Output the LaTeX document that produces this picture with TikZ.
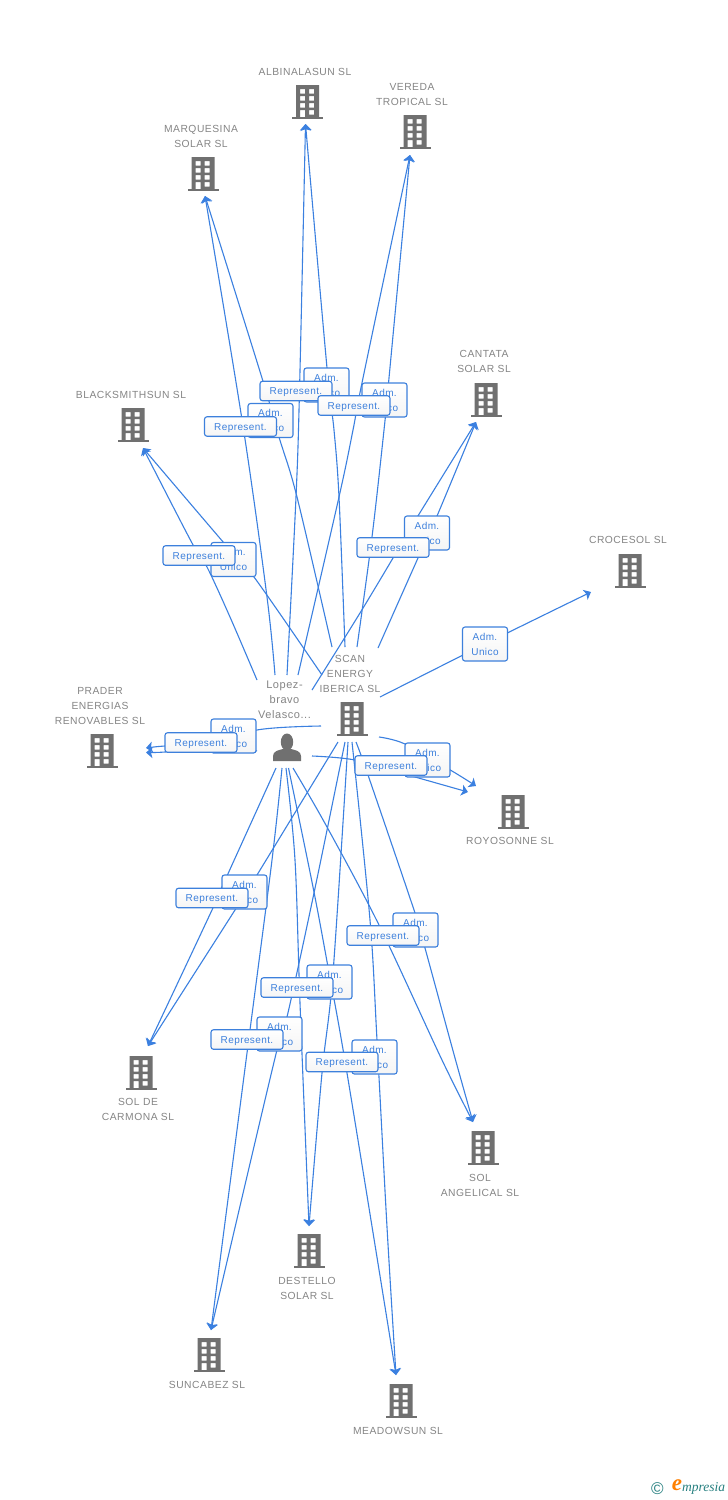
\documentclass[tikz,border=0pt]{standalone}
\usepackage{fontspec}
\usetikzlibrary{arrows.meta,positioning,calc}
\setmainfont{Liberation Sans}
\newfontfamily\labfont[LetterSpace=5]{Liberation Sans}
\newfontfamily\boxfont[LetterSpace=4]{Liberation Sans}
\newfontfamily\logofont{Liberation Serif}
\definecolor{edgeblue}{HTML}{3B80E0}
\definecolor{boxblue}{HTML}{3D80DC}
\definecolor{labgray}{HTML}{858585}
\definecolor{icongray}{HTML}{707070}
\pgfdeclarelayer{edges}
\pgfsetlayers{edges,main}
\tikzset{
  lnk/.style={draw=edgeblue,line width=1.1pt,-{Stealth[length=6.5pt,width=11pt,inset=1.5pt]}},
  lab/.style={text=labgray,align=center,inner sep=0pt,yshift=-1pt,font=\labfont\fontsize{10.3}{15}\selectfont},
  admbox/.style={draw=boxblue,line width=1.1pt,rounded corners=2.5pt,top color=white,bottom color=black!4,
    minimum width=45pt,minimum height=34pt,inner sep=0pt,align=center,text=boxblue,font=\boxfont\fontsize{10}{15}\selectfont},
  repbox/.style={draw=boxblue,line width=1.1pt,rounded corners=2.5pt,top color=white,bottom color=black!4,
    minimum width=72pt,minimum height=19.5pt,inner sep=0pt,text height=7pt,text depth=0pt,text=boxblue,font=\boxfont\fontsize{10}{15}\selectfont},
  icon/.style={inner sep=0pt,minimum width=31pt,minimum height=34pt},
}
\newcommand{\bld}[3]{%
  \node[icon] (#1) at (#2,#3) {};
  \begin{scope}[shift={(#2,#3)}]
    \fill[icongray,even odd rule]
      (-11.5,-17) rectangle (11.5,15)
      (-7.5,-13) rectangle (-2.5,-8.5) (1.5,-13) rectangle (6.5,-8.5)
      (-7.5,-6) rectangle (-2.5,-1.5) (1.5,-6) rectangle (6.5,-1.5)
      (-7.5,1) rectangle (-2.5,5.5) (1.5,1) rectangle (6.5,5.5)
      (-7.5,8) rectangle (-2.5,15) (1.5,8) rectangle (6.5,12.5);
    \fill[icongray] (-15.5,15) rectangle (15.5,17);
  \end{scope}}
\newcommand{\lk}[1]{\draw[lnk] plot[smooth,tension=.55] coordinates {#1};}
\begin{document}
\begin{tikzpicture}[x=1pt,y=-1pt]
\begin{pgfonlayer}{edges}
\path[use as bounding box,fill=white] (0,0) rectangle (728,1500);
\end{pgfonlayer}
% buildings
\bld{albina}{307.5}{102}
\bld{vereda}{415}{132}
\bld{marques}{203}{174}
\bld{black}{133}{425}
\bld{cantata}{486}{400}
\bld{croce}{630}{571}
\bld{scan}{352}{719}
\bld{prader}{102}{751}
\bld{royo}{513}{812}
\bld{carmona}{141}{1073}
\bld{angel}{483}{1148}
\bld{destello}{309}{1251}
\bld{sunca}{209}{1355}
\bld{meadow}{401}{1401}
% person
\node[icon,minimum width=28pt,minimum height=28pt] (person) at (287,747) {};
\fill[icongray] (287,742) ellipse (6.2 and 8.5);
\fill[icongray] (273,761) -- (273,756) .. controls (273,751) and (279,750) .. (283,749) -- (291,749) .. controls (295,750) and (301,751) .. (301,756) -- (301,761) -- cycle;
% labels
\node[lab] (l1) at (305,71) {ALBINALASUN SL};
\node[lab] (l2) at (412,93.5) {VEREDA\\TROPICAL SL};
\node[lab] (l3) at (201,135.5) {MARQUESINA\\SOLAR SL};
\node[lab] (l4) at (131,394) {BLACKSMITHSUN SL};
\node[lab] (l5) at (484,360.5) {CANTATA\\SOLAR SL};
\node[lab] (l6) at (628,539) {CROCESOL SL};
\node[lab] (l7) at (350,673) {SCAN\\ENERGY\\IBERICA SL};
\node[lab,font=\labfont\fontsize{11}{15}\selectfont] (l8) at (284.5,699) {Lopez-\\bravo\\Velasco...};
\node[lab] (l9) at (100,705) {PRADER\\ENERGIAS\\RENOVABLES SL};
\node[lab] (l10) at (510,840) {ROYOSONNE SL};
\node[lab] (l11) at (138,1108.5) {SOL DE\\CARMONA SL};
\node[lab] (l12) at (480,1184.5) {SOL\\ANGELICAL SL};
\node[lab] (l13) at (307,1287.5) {DESTELLO\\SOLAR SL};
\node[lab] (l14) at (207,1384) {SUNCABEZ SL};
\node[lab] (l15) at (398,1430) {MEADOWSUN SL};
% Adm boxes
\node[admbox] (a1) at (326.5,385) {Adm.\\Unico};
\node[admbox] (a2) at (384.5,400) {Adm.\\Unico};
\node[admbox] (a3) at (270.5,420.5) {Adm.\\Unico};
\node[admbox] (a4) at (233.5,559.5) {Adm.\\Unico};
\node[admbox] (a5) at (427,533) {Adm.\\Unico};
\node[admbox] (a6) at (485,644) {Adm.\\Unico};
\node[admbox] (a7) at (233.5,736) {Adm.\\Unico};
\node[admbox] (a8) at (427.5,760) {Adm.\\Unico};
\node[admbox] (a9) at (244.5,892) {Adm.\\Unico};
\node[admbox] (a10) at (415.5,930) {Adm.\\Unico};
\node[admbox] (a11) at (329.5,982) {Adm.\\Unico};
\node[admbox] (a12) at (279.5,1034) {Adm.\\Unico};
\node[admbox] (a13) at (374.5,1057) {Adm.\\Unico};
% Represent boxes
\node[repbox] (r1) at (296,391) {Represent.};
\node[repbox] (r2) at (354,405.5) {Represent.};
\node[repbox] (r3) at (240.5,426.5) {Represent.};
\node[repbox] (r4) at (199,555.5) {Represent.};
\node[repbox] (r5) at (393,547.5) {Represent.};
\node[repbox] (r7) at (201,742.5) {Represent.};
\node[repbox] (r8) at (391,765.5) {Represent.};
\node[repbox] (r9) at (212,898) {Represent.};
\node[repbox] (r10) at (383,935.5) {Represent.};
\node[repbox] (r11) at (297,987.5) {Represent.};
\node[repbox] (r12) at (247,1039.5) {Represent.};
\node[repbox] (r13) at (342,1062) {Represent.};
% logo
\node[text=teal!70!gray,font=\fontsize{17}{17}\selectfont,inner sep=0pt] (lc) at (657.5,1488.5) {©};
\node[text=orange,font=\logofont\itshape\bfseries\fontsize{23}{23}\selectfont,inner sep=0pt] (le) at (677,1485) {e};
\node[text=teal!70!gray,font=\logofont\itshape\fontsize{13.5}{14}\selectfont,inner sep=0pt,anchor=west] (lm) at (682,1488) {mpresia};
% connector ends
\coordinate (tAlb) at (305.5,124);
\coordinate (tVer) at (410,155);
\coordinate (tMar) at (205,196);
\coordinate (tBla) at (143,448);
\coordinate (tCan) at (476,422);
\coordinate (tCro) at (591,592);
\coordinate (tPra) at (146,748);
\coordinate (tPrb) at (146,752.5);
\coordinate (tRoa) at (476,786);
\coordinate (tRob) at (468,792);
\coordinate (tCar) at (148,1046);
\coordinate (tAng) at (473,1122);
\coordinate (tDes) at (309,1226);
\coordinate (tSun) at (211,1330);
\coordinate (tMea) at (396,1375);
% person ends
\coordinate (pAlb) at (287,675);
\coordinate (pVer) at (298,675);
\coordinate (pMar) at (275,675);
\coordinate (pBla) at (257,680);
\coordinate (pCan) at (312,690);
\coordinate (pPra) at (257,751);
\coordinate (pRoy) at (312,756);
\coordinate (pCar) at (276,768);
\coordinate (pSun) at (282,768);
\coordinate (pDes) at (286,768);
\coordinate (pMea) at (288.5,768);
\coordinate (pAng) at (293,768);
% scan ends
\coordinate (sAlb) at (345,647);
\coordinate (sVer) at (357,647);
\coordinate (sMar) at (332,647);
\coordinate (sBla) at (322,675);
\coordinate (sCan) at (378,648);
\coordinate (sCro) at (380,697);
\coordinate (sPra) at (321,726);
\coordinate (sRoy) at (379,737);
\coordinate (sCar) at (338,742);
\coordinate (sSun) at (345,742);
\coordinate (sDes) at (348,742);
\coordinate (sMea) at (352,742);
\coordinate (sAng) at (356,742);
\begin{pgfonlayer}{edges}
\lk{(pAlb) (296,497) (299.5,391) (tAlb)}
\lk{(sAlb) (339,497) (334,430) (327,368) (tAlb)}
\lk{(pVer) (339,497) (353,430) (363,378) (tVer)}
\lk{(sVer) (372,537) (384,430) (389,378) (tVer)}
\lk{(pMar) (267,597) (243,426) (tMar)}
\lk{(sMar) (297,497) (279,437) (262,378) (tMar)}
\lk{(pBla) (230,617) (207,567) (192,543) (tBla)}
\lk{(sBla) (254,577) (224,543) (tBla)}
\lk{(pCan) (360,613) (393,558) (405,537) (tCan)}
\lk{(sCan) (418,558) (437,516) (tCan)}
\lk{(sCro) (a6.center) (tCro)}
\lk{(sPra) (257,730) (205,748) (165,752) (tPrb)}
\lk{(pPra) (237,747) (200,745) (165,746) (tPra)}
\lk{(sRoy) (405,744) (452,771) (tRoa)}
\lk{(pRoy) (355,760) (408,775) (tRob)}
\lk{(pCar) (222,887) (212,910) (tCar)}
\lk{(sCar) (257,875) (235,910) (tCar)}
\lk{(pAng) (327,827) (380,927) (442,1060) (tAng)}
\lk{(sAng) (368,775) (415,913) (425,948) (455,1058) (tAng)}
\lk{(pDes) (295,860) (300,1003) (tDes)}
\lk{(sDes) (333,973) (322,1073) (tDes)}
\lk{(pSun) (272,860) (247,1053) (tSun)}
\lk{(sSun) (314,893) (287,1017) (275,1058) (tSun)}
\lk{(pMea) (313,887) (328,967) (347,1073) (tMea)}
\lk{(sMea) (370,920) (377,1040) (387,1227) (tMea)}
\end{pgfonlayer}
\end{tikzpicture}
\end{document}
